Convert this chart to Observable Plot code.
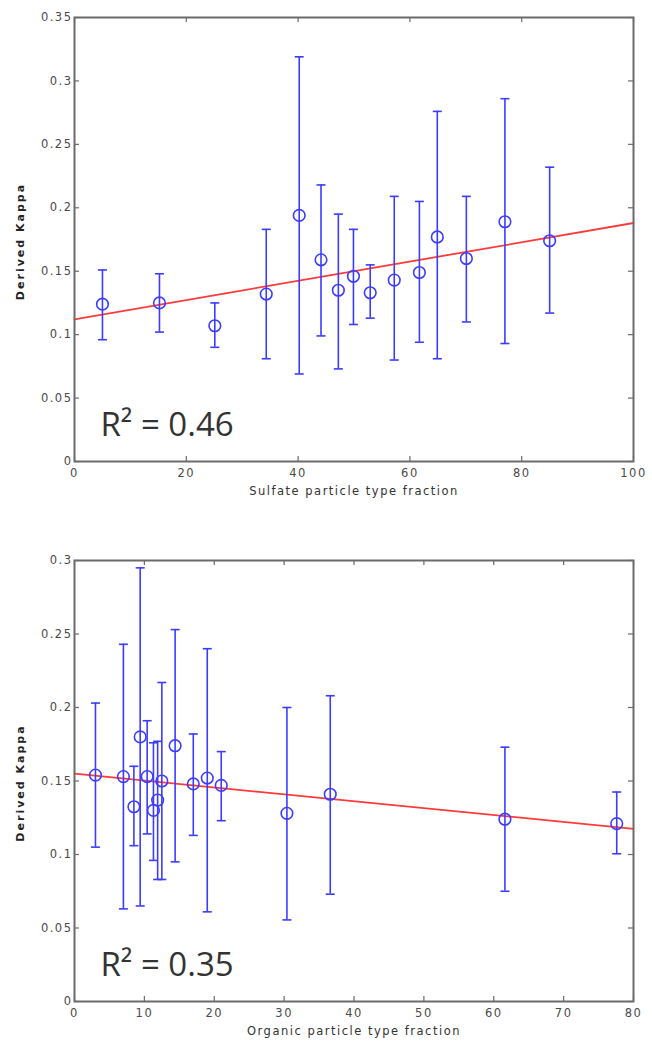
<!DOCTYPE html>
<html><head><meta charset="utf-8">
<script src="https://cdn.jsdelivr.net/npm/d3@7"></script>
<script src="https://cdn.jsdelivr.net/npm/@observablehq/plot@0.6"></script>
<style>
body{margin:0;background:#fff;}
#chart svg{display:block;}
</style></head><body><div id="chart"></div>
<script>
// ---- Panel 1: Sulfate ----
const sulfateX    = [5.0, 15.2, 25.1, 34.3, 40.2, 44.1, 47.2, 49.9, 52.9, 57.2, 61.7, 64.9, 70.1, 77.0, 85.0];
const sulfateK    = [0.124, 0.125, 0.107, 0.132, 0.194, 0.159, 0.135, 0.146, 0.133, 0.143, 0.149, 0.177, 0.160, 0.189, 0.174];
const sulfateLow  = [0.096, 0.102, 0.090, 0.081, 0.069, 0.099, 0.073, 0.108, 0.113, 0.080, 0.094, 0.081, 0.110, 0.093, 0.117];
const sulfateHigh = [0.151, 0.148, 0.125, 0.183, 0.319, 0.218, 0.195, 0.183, 0.155, 0.209, 0.205, 0.276, 0.209, 0.286, 0.232];
const sulfateFitX = [0, 100];
const sulfateFitK = [0.112, 0.188];
const sulfateXTicks = [0, 20, 40, 60, 80, 100];
const sulfateYTicks = [0, 0.05, 0.1, 0.15, 0.2, 0.25, 0.3, 0.35];
const sulfateYLabels = ["0", "0.05", "0.1", "0.15", "0.2", "0.25", "0.3", "0.35"];
const sulfateR2 = "R² = 0.46";
const sulfateTitle = "Sulfate particle type fraction";

// ---- Panel 2: Organic ----
const organicX    = [3.0, 7.0, 8.5, 9.4, 10.4, 11.3, 11.9, 12.5, 14.4, 17.0, 19.0, 21.0, 30.4, 36.6, 61.6, 77.6];
const organicK    = [0.154, 0.153, 0.1325, 0.180, 0.153, 0.130, 0.137, 0.150, 0.174, 0.148, 0.152, 0.147, 0.128, 0.141, 0.124, 0.121];
const organicLow  = [0.105, 0.063, 0.106, 0.065, 0.114, 0.096, 0.083, 0.083, 0.095, 0.113, 0.061, 0.123, 0.0555, 0.073, 0.075, 0.1005];
const organicHigh = [0.203, 0.243, 0.160, 0.295, 0.191, 0.176, 0.177, 0.217, 0.253, 0.182, 0.240, 0.170, 0.200, 0.208, 0.173, 0.1425];
const organicFitX = [0, 80];
const organicFitK = [0.155, 0.1175];
const organicXTicks = [0, 10, 20, 30, 40, 50, 60, 70, 80];
const organicYTicks = [0, 0.05, 0.1, 0.15, 0.2, 0.25, 0.3];
const organicYLabels = ["0", "0.05", "0.1", "0.15", "0.2", "0.25", "0.3"];
const organicR2 = "R² = 0.35";
const organicTitle = "Organic particle type fraction";

const yTitle = "Derived Kappa";

const blue = "#3c3cff";
const red = "#ff3a3a";
const axisCol = "#6b6b6b";
const capSymbol = {draw(context, size) { const w = Math.sqrt(size / Math.PI); context.moveTo(-w, 0); context.lineTo(w, 0); }};

function panel({xs, ks, lows, highs, fitX, fitK, xTicks, yTicks, yLabels, xTitle, r2, height, marginTop, marginBottom}) {
  const W = 652, mL = 74, mR = 19;
  const pts = xs.map((x, i) => ({x, k: ks[i], lo: lows[i], hi: highs[i]}));
  const fit = fitX.map((x, i) => ({x, k: fitK[i]}));
  const innerH = height - marginTop - marginBottom;
  const innerW = W - mL - mR;
  const tl = 5;
  const labelMap = new Map(yTicks.map((t, i) => [t, yLabels[i]]));
  const svg = Plot.plot({
    width: W, height, marginTop, marginBottom, marginLeft: mL, marginRight: mR,
    x: {domain: [xTicks[0], xTicks[xTicks.length - 1]]},
    y: {domain: [yTicks[0], yTicks[yTicks.length - 1]]},
    style: {fontFamily: "DejaVu Sans", background: "#fff"},
    marks: [
      Plot.line(fit, {x: "x", y: "k", stroke: red, strokeWidth: 1.8}),
      Plot.ruleX(pts, {x: "x", y1: "lo", y2: "hi", stroke: blue, strokeWidth: 1.6}),
      Plot.dot(pts, {x: "x", y: "lo", symbol: capSymbol, r: 4.5, stroke: blue, strokeWidth: 1.6}),
      Plot.dot(pts, {x: "x", y: "hi", symbol: capSymbol, r: 4.5, stroke: blue, strokeWidth: 1.6}),
      Plot.dot(pts, {x: "x", y: "k", r: 5.8, stroke: blue, strokeWidth: 1.6, fill: "none"}),
      Plot.tickX(xTicks, {x: d => d, insetTop: innerH - tl, stroke: axisCol, strokeWidth: 1.2}),
      Plot.tickX(xTicks, {x: d => d, insetBottom: innerH - tl, stroke: axisCol, strokeWidth: 1.2}),
      Plot.tickY(yTicks, {y: d => d, insetRight: innerW - tl, stroke: axisCol, strokeWidth: 1.2}),
      Plot.tickY(yTicks, {y: d => d, insetLeft: innerW - tl, stroke: axisCol, strokeWidth: 1.2}),
      Plot.frame({stroke: axisCol, strokeWidth: 2}),
      Plot.axisX({ticks: xTicks, tickSize: 0, tickPadding: 7, label: null, fontSize: 11.5, fill: "#4a4a4a", tickFormat: d => String(d)}),
      Plot.axisY({ticks: yTicks, tickSize: 0, tickPadding: 2, label: null, fontSize: 11.5, fill: "#4a4a4a", tickFormat: d => labelMap.get(d)}),
      Plot.text([xTitle], {text: d => d, frameAnchor: "bottom", dy: 33, fontSize: 11.5, fill: "#333"}),
      Plot.text([yTitle], {text: d => d, frameAnchor: "left", textAnchor: "middle", dx: -54, dy: 2, rotate: -90, fontSize: 11, fontWeight: "bold", fill: "#222"}),
      Plot.text([r2], {text: d => d, frameAnchor: "bottom-left", textAnchor: "start", lineAnchor: "bottom", dx: 26, dy: -26, fontSize: 33, fontFamily: "Open Sans", fill: "#333"})
    ]
  });
  const s = d3.select(svg);
  s.selectAll("text").style("letter-spacing", "1.5px");
  s.selectAll("text").filter(function() { return this.textContent === yTitle; }).style("letter-spacing", "2px");
  s.selectAll("text").filter(function() { return this.textContent.startsWith("R"); }).style("letter-spacing", "0px");
  return svg;
}

const chart = document.getElementById("chart");
chart.append(panel({xs: sulfateX, ks: sulfateK, lows: sulfateLow, highs: sulfateHigh, fitX: sulfateFitX, fitK: sulfateFitK,
  xTicks: sulfateXTicks, yTicks: sulfateYTicks, yLabels: sulfateYLabels, xTitle: sulfateTitle, r2: sulfateR2,
  height: 505, marginTop: 17, marginBottom: 44}));
chart.append(panel({xs: organicX, ks: organicK, lows: organicLow, highs: organicHigh, fitX: organicFitX, fitK: organicFitK,
  xTicks: organicXTicks, yTicks: organicYTicks, yLabels: organicYLabels, xTitle: organicTitle, r2: organicR2,
  height: 542, marginTop: 55, marginBottom: 46}));
</script></body></html>
